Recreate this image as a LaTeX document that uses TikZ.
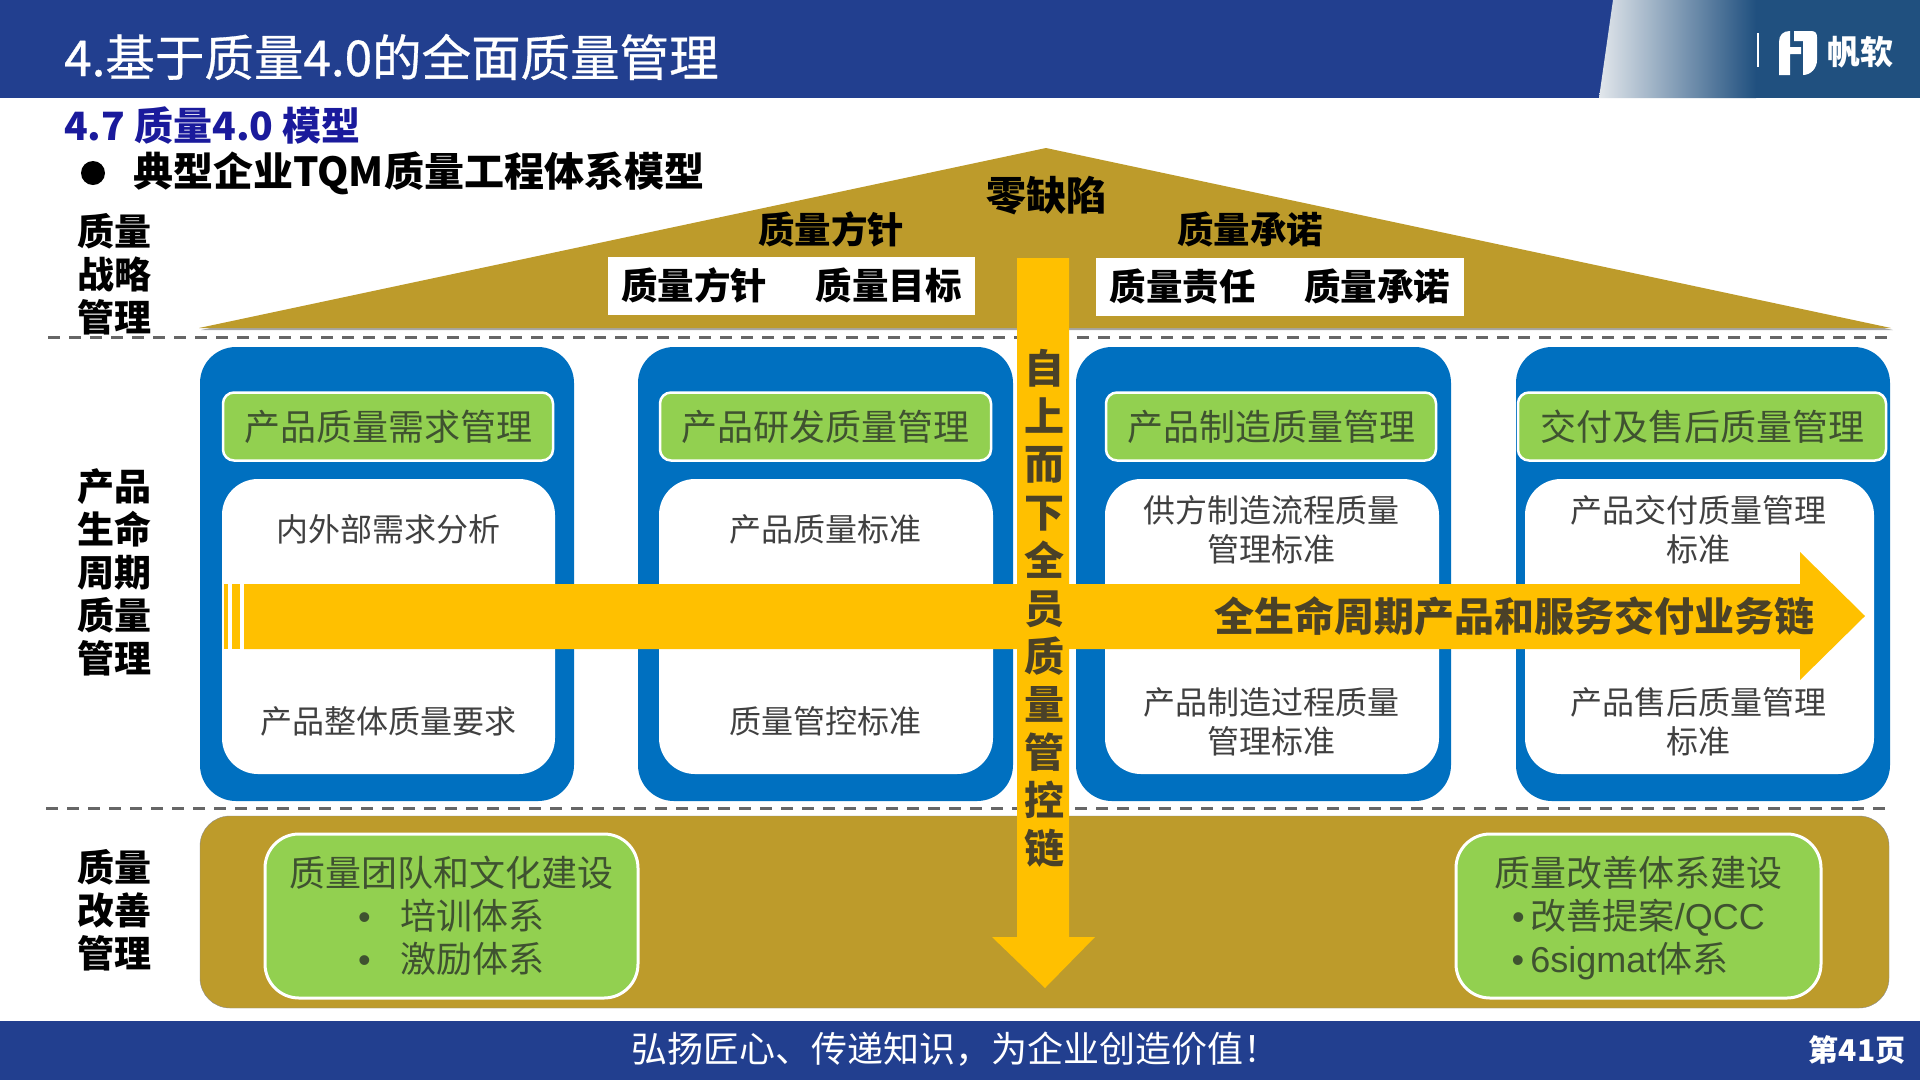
\documentclass[tikz,border=0pt]{standalone}
\usepackage{fontspec}
\setmainfont{Noto Sans CJK SC}
\newfontface\latinface{Liberation Sans}
\newfontface\titleface[FakeBold=0.6]{Noto Sans CJK SC}
\usetikzlibrary{shadows}
\definecolor{barblue}{HTML}{223F8F}
\definecolor{logoblue}{HTML}{20507F}
\definecolor{panelblue}{HTML}{0070C0}
\definecolor{roofgold}{HTML}{BD9B2B}
\definecolor{arrowgold}{HTML}{FFC000}
\definecolor{leafgreen}{HTML}{92D050}
\definecolor{leaftext}{HTML}{3F5230}
\definecolor{greytext}{HTML}{404040}
\definecolor{chaintext}{HTML}{4A4128}
\definecolor{headblue}{HTML}{1A1A9C}
\newcommand{\leafdot}{{\latinface •}}
\tikzset{
    headbox/.style={draw=white,line width=2.5pt,fill=leafgreen,rounded corners=11pt,
        minimum height=68pt,inner sep=0pt,text=leaftext,font=\fontsize{36}{43}\selectfont},
    leafbox/.style={draw=white,line width=3pt,fill=leafgreen,rounded corners=34pt,
        minimum height=164pt,inner sep=0pt,text=leaftext,align=center,font=\fontsize{36}{43}\selectfont},
    paneltext/.style={text=greytext,align=center,inner sep=0pt,font=\fontsize{32}{39}\selectfont},
    sidelabel/.style={align=center,inner sep=0pt,font=\fontsize{37}{43}\selectfont\bfseries},
    rooftext/.style={inner sep=0pt,font=\fontsize{36.5}{43}\selectfont\bfseries},
    whitebox/.style={fill=white,inner sep=0pt,minimum height=58pt,font=\fontsize{36.5}{43}\selectfont\bfseries},
    divider/.style={draw=black!60,line width=3pt,dash pattern=on 12pt off 9pt},
}
\begin{document}
\begin{tikzpicture}[x=1pt,y=-1pt]
    \useasboundingbox[fill=white] (0,0) rectangle (1920,1080);
    % top and bottom bars
    \fill[barblue] (0,0) rectangle (1920,98);
    \fill[barblue] (0,1021) rectangle (1920,1080);
    \shade[left color=black!3!white!90!logoblue,right color=logoblue] (1599,98) -- (1613,0) -- (1756,0) -- (1756,98) -- cycle;
    \fill[logoblue] (1756,0) rectangle (1920,98);
    \draw[white,line width=1.5pt] (1758,33) -- (1758,67);
    \fill[white] (1779,75) -- (1779,42) .. controls (1779,35) and (1783,31) .. (1790,31) -- (1790,47) -- (1801,47) -- (1801,54) -- (1790,54) -- (1790,75) -- cycle;
    \fill[white] (1794,31) -- (1811,31) .. controls (1815,31) and (1817,33) .. (1817,37) -- (1817,60) .. controls (1817,68) and (1811,75) .. (1803,75) -- (1803,41) -- (1794,41) -- cycle;
    \node[text=white,inner sep=0pt,font=\fontsize{33}{33}\selectfont\bfseries] (logotext) at (1860,52) {帆软};
    \node[text=white,anchor=west,inner sep=0pt,font=\fontsize{49.5}{49.5}\titleface] (title) at (64,57) {4.基于质量4.0的全面质量管理};
    \node[text=headblue,anchor=west,inner sep=0pt,font=\fontsize{39}{39}\selectfont\bfseries] (subtitle) at (64,125) {4.7 质量4.0 模型};
    \fill[black] (93,173) circle (12);
    \node[anchor=west,inner sep=0pt,font=\fontsize{40}{40}\selectfont\bfseries] (modelname) at (133,173) {典型企业TQM质量工程体系模型};
    \node[text=white,inner sep=0pt,font=\fontsize{36}{36}\selectfont] (slogan) at (955,1049) {弘扬匠心、传递知识，为企业创造价值！};
    \node[text=white,inner sep=0pt,font=\fontsize{30}{30}\selectfont\bfseries] (pageno) at (1857,1050) {第41页};
    % row labels
    \node[sidelabel] (strategy) at (114,274) {质量\\战略\\管理};
    \node[sidelabel] (lifecycle) at (114,572) {产品\\生命\\周期\\质量\\管理};
    \node[sidelabel] (improve) at (114,910) {质量\\改善\\管理};
    \draw[divider] (48,337) -- (1888,337);
    \draw[divider] (46,808) -- (1888,808);
    % roof
    \fill[roofgold,drop shadow={shadow xshift=2pt,shadow yshift=-2pt,opacity=.35,fill=black}] (199,328) -- (1046,148) -- (1891,328) -- cycle;
    \node[whitebox,minimum width=367pt] (policybox) at (791.5,285.5) {质量方针\hspace{49pt}质量目标};
    \node[whitebox,minimum width=368pt] (pledgebox) at (1280,287) {质量责任\hspace{49pt}质量承诺};
    \node[inner sep=0pt,font=\fontsize{40}{40}\selectfont\bfseries] (zero) at (1046,196) {零缺陷};
    \node[rooftext] (policy) at (831,229) {质量方针};
    \node[rooftext] (pledge) at (1250,229) {质量承诺};
    % lifecycle columns
    \fill[panelblue,rounded corners=36pt] (200,347) rectangle (574,801);
    \fill[panelblue,rounded corners=36pt] (638,347) rectangle (1013,801);
    \fill[panelblue,rounded corners=36pt] (1076,347) rectangle (1451,801);
    \fill[panelblue,rounded corners=36pt] (1516,347) rectangle (1890,801);
    \fill[white,rounded corners=36pt] (222,479) rectangle (555,774);
    \fill[white,rounded corners=36pt] (659,479) rectangle (993,774);
    \fill[white,rounded corners=36pt] (1105,479) rectangle (1439,774);
    \fill[white,rounded corners=36pt] (1525,479) rectangle (1874,774);
    \node[headbox,minimum width=330pt] (needs) at (388,426.5) {产品质量需求管理};
    \node[headbox,minimum width=331pt] (design) at (825.5,426.5) {产品研发质量管理};
    \node[headbox,minimum width=330pt] (making) at (1271,426.5) {产品制造质量管理};
    \node[headbox,minimum width=368pt] (delivery) at (1702,426.5) {交付及售后质量管理};
    \node[paneltext] (needsa) at (388,529) {内外部需求分析};
    \node[paneltext] (needsb) at (388,721) {产品整体质量要求};
    \node[paneltext] (designa) at (825,529) {产品质量标准};
    \node[paneltext] (designb) at (825,721) {质量管控标准};
    \node[paneltext] (makinga) at (1271,530) {供方制造流程质量\\管理标准};
    \node[paneltext] (makingb) at (1271,722) {产品制造过程质量\\管理标准};
    \node[paneltext] (deliverya) at (1698,530) {产品交付质量管理\\标准};
    \node[paneltext] (deliveryb) at (1698,722) {产品售后质量管理\\标准};
    % value chain arrow
    \fill[arrowgold] (224,584) rectangle (228,649);
    \fill[arrowgold] (232,584) rectangle (240,649);
    \fill[arrowgold] (244,584) -- (1800,584) -- (1800,552) -- (1865,616) -- (1800,680) -- (1800,649) -- (244,649) -- cycle;
    \node[text=chaintext,inner sep=0pt,font=\fontsize{40}{40}\selectfont\bfseries] (valuechain) at (1514,616) {全生命周期产品和服务交付业务链};
    % improvement base
    \draw[black!45,fill=roofgold,rounded corners=30pt] (200,816) rectangle (1889,1008);
    \node[leafbox,minimum width=373pt] (culture) at (451.5,916) {质量团队和文化建设\\\leafdot\hspace{30pt}培训体系\\\leafdot\hspace{30pt}激励体系};
    \node[leafbox,minimum width=365pt] (system) at (1638.5,916) {质量改善体系建设\\\leafdot\hspace{6pt}改善提案{\latinface /QCC}\\\leafdot\hspace{6pt}\smash{\latinface 6sigmat}体系\hspace*{37pt}};
    % control chain arrow
    \fill[arrowgold] (1017,258) -- (1069,258) -- (1069,937) -- (1095,937) -- (1045,988) -- (992,937) -- (1017,937) -- cycle;
    \node[text=chaintext,align=center,inner sep=0pt,font=\fontsize{40}{48}\selectfont\bfseries] (controlchain) at (1044,608) {自\\上\\而\\下\\全\\员\\质\\量\\管\\控\\链};
\end{tikzpicture}
\end{document}
